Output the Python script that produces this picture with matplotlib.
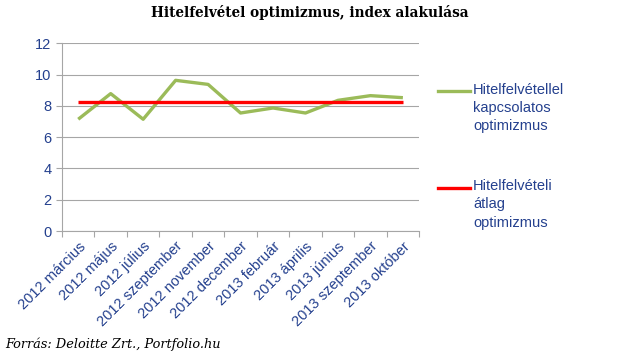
import matplotlib as mpl
import matplotlib.pyplot as plt
from matplotlib.lines import Line2D

mpl.rcParams['font.family'] = 'Liberation Sans'

months = ['2012 március', '2012 május', '2012 július', '2012 szeptember',
          '2012 november', '2012 december', '2013 február', '2013 április',
          '2013 június', '2013 szeptember', '2013 október']
optimism = [7.15, 8.79, 7.15, 9.64, 9.38, 7.55, 7.87, 7.55, 8.36, 8.66, 8.53]
average = [8.25] * len(months)

label_green = 'Hitelfelvétellel\nkapcsolatos\noptimizmus'
label_red = 'Hitelfelvételi\nátlag\noptimizmus'
txt_color = '#24408E'
green = '#9BBB59'
red = '#FF0000'

fig = plt.figure(figsize=(6.2, 3.59), dpi=100)
ax = fig.add_axes([0.1, 0.3565, 0.576, 0.5225])

x = list(range(len(months)))
ax.plot(x, optimism, color=green, lw=2.4, solid_capstyle='butt', zorder=3)
ax.plot(x, average, color=red, lw=2.4, solid_capstyle='butt', zorder=4)

ax.set_xlim(-0.5, len(months) - 0.5)
ax.set_ylim(0, 12)
ax.set_yticks(range(0, 13, 2))
ax.yaxis.grid(True, color='#A6A6A6', lw=0.8)
ax.set_axisbelow(True)

ax.set_xticks([i - 0.5 for i in range(len(months) + 1)])
ax.set_xticklabels([])
ax.set_xticks(x, minor=True)
ax.set_xticklabels(months, minor=True, rotation=45, ha='right',
                   rotation_mode='anchor', color=txt_color, fontsize=10.5)
ax.tick_params(axis='x', which='minor', length=0, pad=6)
ax.tick_params(axis='x', which='major', length=4, color='#A6A6A6')
ax.tick_params(axis='y', length=4, color='#A6A6A6', labelcolor=txt_color,
               labelsize=10.5)

for s in ['top', 'right']:
    ax.spines[s].set_visible(False)
for s in ['left', 'bottom']:
    ax.spines[s].set_color('#A6A6A6')
    ax.spines[s].set_linewidth(0.8)

fig.text(0.5, 0.965, 'Hitelfelvétel optimizmus, index alakulása',
         ha='center', va='center', fontsize=9.8, fontweight='bold',
         family='DejaVu Serif')
fig.text(0.008, 0.04, 'Forrás: Deloitte Zrt., Portfolio.hu',
         ha='left', va='center', fontsize=9.3, style='italic',
         family='DejaVu Serif')

# legend drawn by hand to keep Excel-style layout
for yy, col, lab in [(91, green, label_green), (187.5, red, label_red)]:
    yf = 1 - yy / 359
    fig.add_artist(Line2D([438 / 620, 470 / 620], [yf, yf], color=col,
                          lw=2.4, transform=fig.transFigure))
    fig.text(473 / 620, yf + 8.5 / 359, lab, ha='left', va='top',
             color=txt_color, fontsize=10.5, linespacing=1.4)

fig.savefig('out.png', dpi=100)
